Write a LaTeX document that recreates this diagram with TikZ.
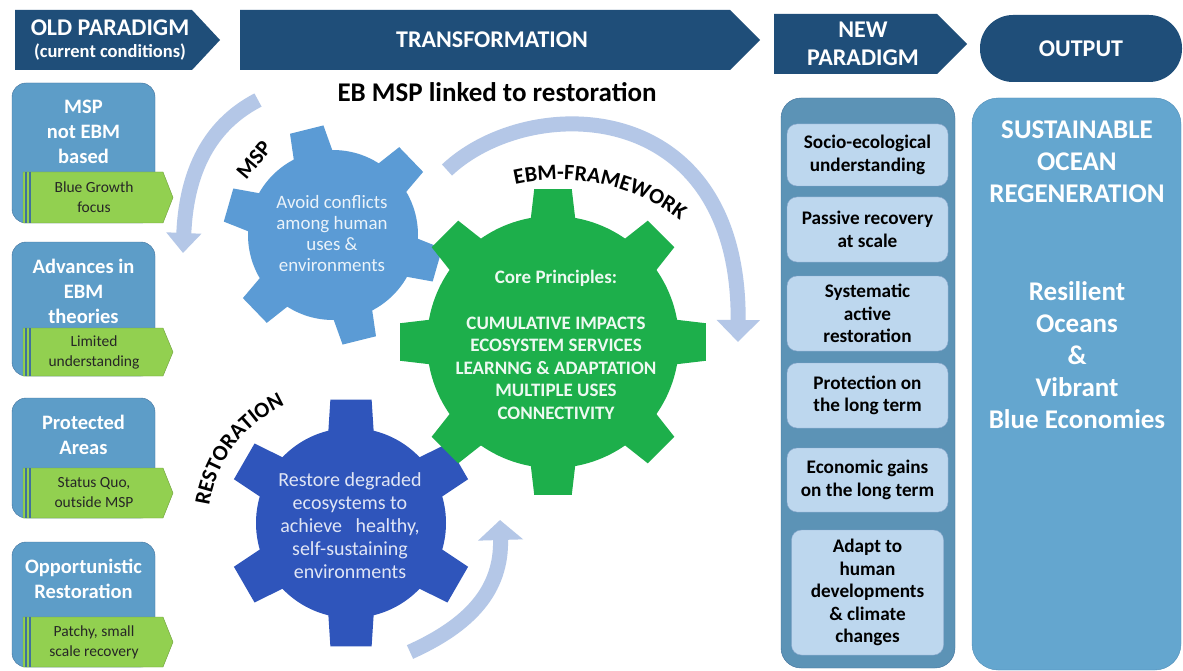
\documentclass[tikz,border=0pt]{standalone}
\usepackage{fontspec}
\setmainfont{Carlito}
\usepackage{tikz}
\usetikzlibrary{arrows.meta, positioning, calc, decorations.text}

\definecolor{hdrblue}{HTML}{1F4E79}
\definecolor{oldblue}{HTML}{5D9DC8}
\definecolor{oldedge}{HTML}{41719C}
\definecolor{taggreen}{HTML}{92D050}
\definecolor{tagedge}{HTML}{6E9E3C}
\definecolor{newblue}{HTML}{5C93B6}
\definecolor{newedge}{HTML}{41719C}
\definecolor{cellblue}{HTML}{BDD7EE}
\definecolor{celledge}{HTML}{8EAACF}
\definecolor{outblue}{HTML}{64A6CF}
\definecolor{outedge}{HTML}{4F8DB8}
\definecolor{mspgear}{HTML}{5B9BD5}
\definecolor{ebmgear}{HTML}{1DAF4B}
\definecolor{resgear}{HTML}{2F55BB}
\definecolor{arcblue}{HTML}{B4C7E7}

% gear: centre, teeth, root radius, tip radius, first tooth angle, half angle at root, half angle at tip, colour
\newcommand{\gearwheel}[8]{%
  \begin{scope}[shift={#1}]
    \fill[#8] (0,0) circle (#3);
    \foreach \k in {1,...,#2}{
      \pgfmathsetmacro{\ang}{#5+360/#2*(\k-1)}
      \fill[#8] (\ang-#6:#3-6) -- (\ang-#7:#4) -- (\ang+#7:#4) -- (\ang+#6:#3-6) -- cycle;
    }
  \end{scope}}

\begin{document}
\begin{tikzpicture}[x=1pt, y=1pt,
  hdrtext/.style={text=white, font=\bfseries\fontsize{24}{28}\selectfont, align=center, inner sep=0pt},
  oldbox/.style={draw=oldedge, fill=oldblue, rounded corners=14pt, minimum width=143pt, inner sep=0pt},
  oldtitle/.style={text=white, font=\bfseries\fontsize{20.5}{25}\selectfont, align=center, inner sep=0pt},
  tagtext/.style={text=black!85, font=\fontsize{15.5}{20}\selectfont, align=center, inner sep=0pt},
  geartext/.style={align=center, inner sep=0pt},
  gearlabel/.style={font=\bfseries\fontsize{22}{26}\selectfont},
  arcarrow/.style={draw=arcblue, line width=15pt},
  cell/.style={draw=celledge, fill=cellblue, rounded corners=10pt, inner sep=0pt, align=center, font=\bfseries\fontsize{19.2}{22.5}\selectfont},
  outtext/.style={text=white, font=\bfseries\fontsize{27}{32}\selectfont, align=center, inner sep=0pt}]

  \useasboundingbox[fill=white] (0,0) rectangle (1183,-671);

  % Header arrows
  \fill[hdrblue] (15,-10) -- (192,-10) -- (220,-40) -- (192,-70) -- (15,-70) -- cycle;
  \fill[hdrblue] (240,-10) -- (730,-10) -- (760,-40) -- (730,-70) -- (240,-70) -- cycle;
  \fill[hdrblue] (774,-14) -- (937,-14) -- (967,-44) -- (937,-74) -- (774,-74) -- cycle;
  \node[fill=hdrblue, rounded corners=33pt, minimum width=202pt, minimum height=67pt] (outhdr) at (1081,-48.5) {};
  \node[hdrtext] (oldhdr) at (110,-40) {OLD PARADIGM\\[-6pt]{\fontsize{18.5}{20}\selectfont(current conditions)}};
  \node[hdrtext] (transhdr) at (492,-40) {TRANSFORMATION};
  \node[hdrtext] (newhdr) at (863,-44) {NEW\\PARADIGM};
  \node[hdrtext] (outtxt) at (outhdr) {OUTPUT};
  \node[font=\bfseries\fontsize{27}{30}\selectfont] (title) at (497,-92) {EB MSP linked to restoration};

  % Old paradigm column
  \foreach \tp/\bt/\tg/\ttl/\tgtxt [count=\i] in {
      83/223/172/{MSP\\not EBM\\based}/{Blue Growth\\focus},
      242/376/328/{Advances in\\EBM\\theories}/{Limited\\understanding},
      398/518/468/{Protected\\Areas}/{Status Quo,\\outside MSP},
      542/667/617/{Opportunistic\\Restoration}/{Patchy, small\\scale recovery}}{
    \node[oldbox, minimum height={\bt-\tp}] (old\i) at (83.5,{-(\tp+\bt)/2}) {};
    \node[oldtitle, below=17pt of old\i.north] (oldttl\i) {\ttl};
    \fill[taggreen, draw=tagedge] (23,-\tg) -- (163,-\tg) -- (173,{-(\tg+\bt)/2}) -- (163,-\bt) -- (23,-\bt) -- cycle;
    \draw[oldedge, line width=1.5pt] (26,-\tg) -- (26,-\bt) (30,-\tg) -- (30,-\bt);
    \node[tagtext] (oldtag\i) at (94,{-(\tg+\bt)/2}) {\tgtxt};
  }

  % Arrows round the gears
  \coordinate (mspA) at (258,-100);
  \coordinate (mspB) at (183,-253);
  \draw[arcarrow, -{Triangle[width=34pt,length=20pt]}] (mspA) .. controls (204,-128) and (186,-180) .. (mspB);
  \coordinate (ebmA) at (447,-170);
  \coordinate (ebmB) at (738,-342);
  \draw[arcarrow, -{Triangle[width=42pt,length=22pt]}] (ebmA) .. controls (530,-92) and (740,-95) .. (ebmB);
  \coordinate (resA) at (410,-652);
  \coordinate (resB) at (500,-520);
  \draw[arcarrow, -{Triangle[width=44pt,length=20pt]}] (resA) .. controls (470,-625) and (502,-590) .. (resB);

  % Gears
  \gearwheel{(333,-235)}{6}{85}{110}{104}{15}{9}{mspgear}
  \gearwheel{(351,-523)}{6}{95}{125}{90}{15}{9.5}{resgear}
  \gearwheel{(553,-342)}{8}{126}{154}{90}{11}{7}{ebmgear}

  \node[geartext, text=white!88!mspgear, font=\fontsize{18.9}{21}\selectfont] (msptxt) at (332,-234) {Avoid conflicts\\among human\\uses \&\\environments};
  \node[geartext, text=white!85!resgear, font=\fontsize{20}{23}\selectfont] (restxt) at (350,-526) {Restore degraded\\ecosystems to\\achieve~~~healthy,\\self-sustaining\\environments};
  \node[geartext, text=white!92!ebmgear, font=\bfseries\fontsize{19}{22}\selectfont] (coretxt) at (556,-278) {Core Principles:};
  \node[geartext, text=white!92!ebmgear, font=\bfseries\fontsize{19}{22.5}\selectfont] (princtxt) at (556,-368) {CUMULATIVE IMPACTS\\ECOSYSTEM SERVICES\\LEARNNG \& ADAPTATION\\MULTIPLE USES\\CONNECTIVITY};

  % Gear labels
  \node[gearlabel, rotate=50] (msplbl) at (254,-160) {MSP};
  \coordinate (ebmC) at (560,-380);
  \path[decorate, decoration={text along path, text align=center, text={|\bfseries\fontsize{22}{26}\selectfont|EBM-FRAMEWORK}}] ($(ebmC)+(114:200)$) arc[start angle=114, end angle=42, radius=200];
  \coordinate (resC) at (338,-524);
  \path[decorate, decoration={text along path, text align=center, text={|\bfseries\fontsize{22}{26}\selectfont|RESTORATION}}] ($(resC)+(182:130)$) arc[start angle=182, end angle=104, radius=130];

  % New paradigm column
  \node[draw=newedge, fill=newblue, rounded corners=20pt, minimum width=174pt, minimum height=570pt] (newbox) at (868,-383) {};
  \foreach \cy/\ch/\cw/\ctxt [count=\j] in {
      155/62/161/{Socio-ecological\\understanding},
      229.5/65/161/{Passive recovery\\at scale},
      313.5/75/161/{Systematic\\active\\restoration},
      395.5/65/161/{Protection on\\the long term},
      480/64/161/{Economic gains\\on the long term},
      592.5/125/152/{Adapt to\\human\\developments\\\& climate\\changes}}{
    \node[cell, minimum width=\cw, minimum height=\ch] (cell\j) at (867.5,-\cy) {\ctxt};
  }

  % Output column
  \node[draw=outedge, fill=outblue, rounded corners=26pt, minimum width=209pt, minimum height=572pt] (outbox) at (1076.5,-384) {};
  \node[outtext] (goal) at (1077,-162) {SUSTAINABLE\\OCEAN\\REGENERATION};
  \node[outtext] (vision) at (1077,-355) {Resilient\\Oceans\\\&\\Vibrant\\Blue Economies};
\end{tikzpicture}
\end{document}
